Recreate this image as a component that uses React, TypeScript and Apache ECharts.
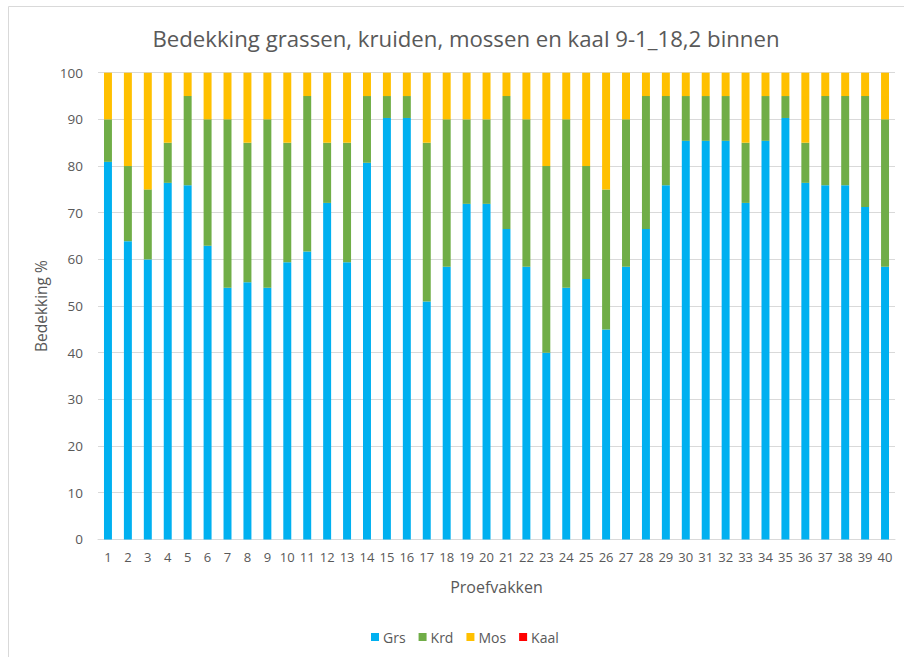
import React, { useEffect, useRef } from "react";
import * as echarts from "echarts";

const categories = Array.from({ length: 40 }, (_, i) => String(i + 1));

const grs = [80.9, 63.9, 60, 76.4, 75.9, 62.9, 53.9, 55.1, 53.9, 59.4, 61.7, 72.1, 59.4, 80.7, 90.3, 90.3, 51, 58.4, 71.9, 71.9, 66.5, 58.4, 40, 53.9, 55.8, 45, 58.4, 66.5, 75.9, 85.4, 85.4, 85.4, 72.1, 85.4, 90.3, 76.4, 75.9, 75.9, 71.2, 58.4];
const krd = [9.1, 16.1, 15, 8.6, 19.1, 27.1, 36.1, 29.9, 36.1, 25.6, 33.3, 12.9, 25.6, 14.3, 4.7, 4.7, 34, 31.6, 18.1, 18.1, 28.5, 31.6, 40, 36.1, 24.2, 30, 31.6, 28.5, 19.1, 9.6, 9.6, 9.6, 12.9, 9.6, 4.7, 8.6, 19.1, 19.1, 23.8, 31.6];
const mos = [10, 20, 25, 15, 5, 10, 10, 15, 10, 15, 5, 15, 15, 5, 5, 5, 15, 10, 10, 10, 5, 10, 20, 10, 20, 25, 10, 5, 5, 5, 5, 5, 15, 5, 5, 15, 5, 5, 5, 10];
const kaal = [0, 0, 0, 0, 0, 0, 0, 0, 0, 0, 0, 0, 0, 0, 0, 0, 0, 0, 0, 0, 0, 0, 0, 0, 0, 0, 0, 0, 0, 0, 0, 0, 0, 0, 0, 0, 0, 0, 0, 0];

const seriesNames = ["Grs", "Krd", "Mos", "Kaal"];
const seriesColors = ["#00B0F0", "#70AD47", "#FFC000", "#FF0000"];
const seriesData = [grs, krd, mos, kaal];

const FONT = "'Open Sans', 'Noto Sans', sans-serif";
const TXT = "#595959";

export default function App() {
  const ref = useRef<HTMLDivElement>(null);
  useEffect(() => {
    if (!ref.current) return;
    const chart = echarts.init(ref.current, null, { renderer: "svg" });
    chart.setOption({
      animation: false,
      backgroundColor: "#ffffff",
      textStyle: { fontFamily: FONT, color: TXT },
      title: {
        text: "Bedekking grassen, kruiden, mossen en kaal 9-1_18,2 binnen",
        left: 461,
        top: 22,
        textAlign: "center",
        textStyle: { fontFamily: FONT, fontSize: 22.2, fontWeight: "normal", color: TXT },
      },
      graphic: [
        {
          type: "rect",
          shape: { x: 8.5, y: 6.5, width: 920, height: 700 },
          style: { fill: "none", stroke: "#d9d9d9", lineWidth: 1 },
          silent: true,
          z: -1,
        },
      ],
      legend: {
        left: 366,
        top: 625,
        itemWidth: 8,
        itemHeight: 8,
        itemGap: 13,
        icon: "rect",
        textStyle: { fontFamily: FONT, fontSize: 14, color: TXT, padding: [0, 0, 0, -1] },
        data: seriesNames,
      },
      grid: { left: 98, right: 9, top: 72.7, bottom: 117.6, containLabel: false },
      xAxis: {
        type: "category",
        data: categories,
        name: "Proefvakken",
        nameLocation: "middle",
        nameGap: 40,
        nameTextStyle: { fontFamily: FONT, fontSize: 16, color: TXT },
        axisLine: { lineStyle: { color: "#d9d9d9", width: 1 } },
        axisTick: { show: false },
        axisLabel: { fontFamily: FONT, fontSize: 13, color: TXT, margin: 11, interval: 0 },
      },
      yAxis: {
        type: "value",
        min: 0,
        max: 100,
        interval: 10,
        name: "Bedekking %",
        nameLocation: "middle",
        nameGap: 45,
        nameRotate: 90,
        nameTextStyle: { fontFamily: FONT, fontSize: 15.5, color: TXT },
        axisLine: { show: false },
        axisTick: { show: false },
        axisLabel: { fontFamily: FONT, fontSize: 13.5, color: TXT, margin: 15 },
        splitLine: { lineStyle: { color: "#d9d9d9", width: 1 } },
      },
      series: seriesNames.map((name, i) => ({
        name,
        type: "bar",
        stack: "total",
        barWidth: "40%",
        data: seriesData[i],
        itemStyle: { color: seriesColors[i] },
      })),
    });
    return () => chart.dispose();
  }, []);
  return (
    <div
      ref={ref}
      style={{ position: "absolute", left: 0, top: 0, width: 904, height: 657 }}
    />
  );
}
